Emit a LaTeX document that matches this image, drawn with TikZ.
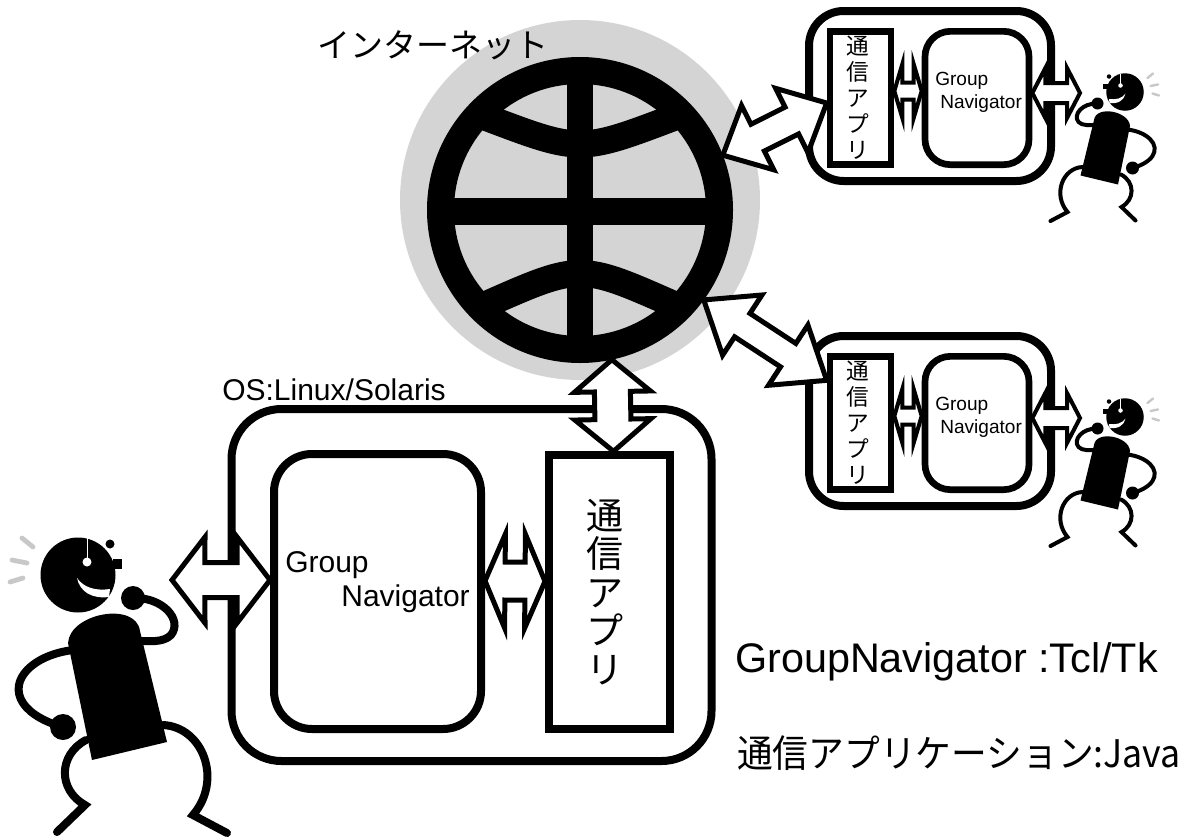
\documentclass[tikz,border=0pt]{standalone}
\usepackage{fontspec}
\usepackage{graphicx}
\setmainfont{Liberation Sans}
\newfontfamily\jpfont{Noto Sans CJK JP}
\usetikzlibrary{calc}

\definecolor{globegray}{RGB}{212,212,212}
\definecolor{swishgray}{RGB}{200,200,200}

% white double block arrow between two points:
% [style]{from}{to}{head length}{head half width}{shaft half width}
\newcommand\dblarrow[6][blockarrow]{%
  \pgfmathsetmacro\hdist{veclen(#4,#5)*0.75}%
  \pgfmathsetmacro\hang{atan2(#5,#4)}%
  \pgfmathsetmacro\sdist{veclen(#4,#6)*0.75}%
  \pgfmathsetmacro\sang{atan2(#6,#4)}%
  \draw[#1] (#2) -- ($(#2)!\hdist pt!\hang:(#3)$) -- ($(#2)!\sdist pt!\sang:(#3)$)
    -- ($(#3)!\sdist pt!-\sang:(#2)$) -- ($(#3)!\hdist pt!-\hang:(#2)$) -- (#3)
    -- ($(#3)!\hdist pt!\hang:(#2)$) -- ($(#3)!\sdist pt!\sang:(#2)$)
    -- ($(#2)!\sdist pt!-\sang:(#3)$) -- ($(#2)!\hdist pt!-\hang:(#3)$) -- cycle;
}

\tikzset{
  pics/dancer/.style={code={
    % swish lines by the head
    \draw[swishgray, line width=#1*0.6, line cap=round]
      (-56,-37) -- (-45,-28) (-66,-15) -- (-51,-12) (-68,7) -- (-55,3);
    % head
    \fill (0,0) circle (37.5);
    \fill (35,-16) rectangle (44,-6);
    \fill[white] (31,-24) -- (42,-22) -- (36,-16) -- cycle;
    \fill (32,-31) circle (4.5);
    \fill[white] (9,-13) circle (4.5);
    \draw[white, line width=#1*0.1] (9,-13) -- (9,-37);
    \fill[white] (-1,3) .. controls (2,17) and (14,24) .. (31,22) -- (32,14)
      .. controls (18,16) and (6,13) .. cycle;
    % body
    \fill (-10,68) .. controls (-8,38) and (58,26) .. (62,56) -- (89,167) -- (14,185) -- cycle;
    % arms and legs
    \draw[line width=#1, line cap=round] (55,23) .. controls (85,22) and (105,45) .. (93,60)
      .. controls (85,68) and (72,66) .. (55,66);
    \fill (55,23) circle (12);
    \draw[line width=#1, line cap=round] (-5,75) .. controls (-45,80) and (-70,105) .. (-55,128)
      .. controls (-47,140) and (-30,148) .. (-15,152);
    \fill (-15,152) circle (13);
    \draw[line width=#1, line cap=round] (8,165) .. controls (-20,180) and (-20,215) .. (7,230) -- (-21,257);
    \draw[line width=#1, line cap=round] (85,150) .. controls (125,152) and (145,205) .. (115,240) -- (149,258);
  }}
}

\begin{document}
\begin{tikzpicture}[
    x=0.75pt, y=-0.75pt,
    lbl/.style={inner sep=0, font=\fontsize{22.5pt}{27pt}\selectfont},
    slbl/.style={inner sep=0, font=\fontsize{14.3pt}{17pt}\selectfont},
    osbox/.style={draw, line width=6pt, rounded corners=37.5pt, minimum width=360pt, minimum height=264pt, inner sep=0},
    gnbox/.style={draw, line width=6pt, rounded corners=28.5pt, minimum width=155.25pt, minimum height=206.25pt, inner sep=0},
    appbox/.style={draw, line width=6pt, minimum width=90.75pt, minimum height=205pt, inner sep=0},
    sbox/.style={draw, line width=6pt, rounded corners=26pt, minimum width=181.5pt, minimum height=127.5pt, inner sep=0},
    sgnbox/.style={draw, line width=5pt, rounded corners=19pt, minimum width=78pt, minimum height=100pt, inner sep=0},
    sappbox/.style={draw, line width=5pt, minimum width=45.75pt, minimum height=100pt, inner sep=0},
    ring/.style={circle, draw, line width=20.25pt, minimum size=209.25pt, inner sep=0},
    blockarrow/.style={draw, fill=white, line width=3.75pt, line join=miter},
    smallarrow/.style={draw, fill=white, line width=3pt, line join=miter}
  ]
  \fill[white] (0,0) rectangle (1198,839);
  \useasboundingbox (0,0) rectangle (1198,839);

  % the internet
  \fill[globegray] (580,200) circle (180);
  \fill (566.5,62) rectangle (592.5,358);
  \fill (432,198) rectangle (728,225);
  \draw[line width=20.25pt] (485,117) .. controls (580,153) .. (675,117);
  \draw[line width=20.25pt] (485,305) .. controls (580,263) .. (675,305);
  \node[ring] (net) at (580,210) {};
  \node[font=\jpfont\fontsize{24.75pt}{30pt}\selectfont, inner sep=0] (nettitle) at (433,45) {インターネット};

  % local machine
  \node[osbox] (os) at (471.5,585) {};
  \node[lbl, anchor=base west] (oslbl) at (222,400) {OS:Linux/Solaris};
  \node[gnbox] (gn) at (377.5,591.5) {};
  \node[lbl, anchor=base west] (gntop) at (285,572) {Group};
  \node[lbl, anchor=base east] (gnbot) at (470,606) {Navigator};
  \node[appbox] (app) at (609.5,592) {};
  \node[align=center, inner sep=0, font=\jpfont\fontsize{27.75pt}{28.9pt}\selectfont] (apptxt) at (605,592)
    {通\\信\\ア\\プ\\リ};

  \pic at (78,575) {dancer=6pt};

  \coordinate (me) at (172,580);
  \coordinate (gnL) at (gn.west |- me);
  \coordinate (gnR) at ([yshift=8pt]gn.east);
  \coordinate (appL) at ([yshift=8pt]app.west);
  \coordinate (appT) at ([xshift=3pt]app.north);
  \dblarrow{me}{gnL}{33}{43}{17.5}
  \dblarrow{gnR}{appL}{20}{47}{19}
  \dblarrow{net.-78}{appT}{32}{38}{18}

  % remote machines
  \foreach \g/\dy in {1/0, 2/325} {
    \node[sbox] (sbox\g) at (930,{96+\dy}) {};
    \node[sappbox] (sapp\g) at (860.5,{98+\dy}) {};
    \node[align=center, inner sep=0, font=\jpfont\fontsize{17pt}{19.5pt}\selectfont] (sapptxt\g) at (857.5,{98+\dy})
      {通\\信\\ア\\プ\\リ};
    \node[sgnbox] (sgn\g) at (977,{98+\dy}) {};
    \node[slbl, anchor=base west] (sgntop\g) at (935,{85.6+\dy}) {Group};
    \node[slbl, anchor=base west] (sgnbot\g) at (940,{108.6+\dy}) {Navigator};
    \pic[xscale=-0.5, yscale=0.5] at (1125,{92+\dy}) {dancer=3pt};
    \coordinate (you\g) at (1080,{93+\dy});
    \coordinate (sappR\g) at ([yshift=5.25pt]sapp\g.east);
    \coordinate (sgnL\g) at ([yshift=5.25pt]sgn\g.west);
    \coordinate (sgnR\g) at ([yshift=3.75pt]sgn\g.east);
    \dblarrow[smallarrow]{sappR\g}{sgnL\g}{8}{27}{8.5}
    \dblarrow[smallarrow]{sgnR\g}{you\g}{13}{25}{10}
  }
  \coordinate (sappL1) at ([yshift=-3.75pt]sapp1.west);
  \coordinate (sappL2) at ([yshift=32pt]sapp2.west);
  \dblarrow{net.21}{sappL1}{39}{36}{15}
  \dblarrow{net.-36}{sappL2}{46}{36}{14}

  % implementation notes
  \node[anchor=base west, inner sep=0, font=\fontsize{31pt}{36pt}\selectfont] (lang1) at (735,672)
    {GroupNavigator :Tcl/Tk};
  \node[anchor=base west, inner sep=0, font=\jpfont\fontsize{28.5pt}{34pt}\selectfont] (lang2) at (737,767)
    {\scalebox{0.94}[1]{通信アプリケーション:Java}};
\end{tikzpicture}
\end{document}
